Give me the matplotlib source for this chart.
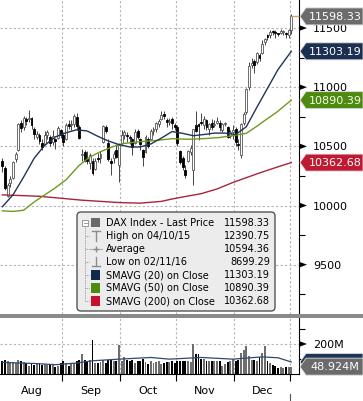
import matplotlib
matplotlib.use('Agg')
import matplotlib.pyplot as plt
from matplotlib.patches import Polygon, FancyBboxPatch, Rectangle
from matplotlib.ticker import MultipleLocator, FixedLocator, NullFormatter
import matplotlib.transforms as mtrans

# ---------------- data ----------------
dates = ['08/01', '08/02', '08/03', '08/04', '08/05', '08/08', '08/09', '08/10', '08/11', '08/12',
         '08/15', '08/16', '08/17', '08/18', '08/19', '08/22', '08/23', '08/24', '08/25', '08/26',
         '08/29', '08/30', '08/31', '09/01', '09/02', '09/05', '09/06', '09/07', '09/08', '09/09',
         '09/12', '09/13', '09/14', '09/15', '09/16', '09/19', '09/20', '09/21', '09/22', '09/23',
         '09/26', '09/27', '09/28', '09/29', '09/30', '10/03', '10/04', '10/05', '10/06', '10/07',
         '10/10', '10/11', '10/12', '10/13', '10/14', '10/17', '10/18', '10/19', '10/20', '10/21',
         '10/24', '10/25', '10/26', '10/27', '10/28', '10/31', '11/01', '11/02', '11/03', '11/04',
         '11/07', '11/08', '11/09', '11/10', '11/11', '11/14', '11/15', '11/16', '11/17', '11/18',
         '11/21', '11/22', '11/23', '11/24', '11/25', '11/28', '11/29', '11/30', '12/01', '12/02',
         '12/05', '12/06', '12/07', '12/08', '12/09', '12/12', '12/13', '12/14', '12/15', '12/16',
         '12/19', '12/20', '12/21', '12/22', '12/23', '12/27', '12/28', '12/29', '12/30', '01/02']

opens = [10380, 10320, 10080, 10190, 10230, 10390, 10470, 10700, 10660, 10730,
         10730, 10740, 10650, 10580, 10600, 10530, 10520, 10600, 10580, 10540,
         10560, 10570, 10640, 10600, 10560, 10690, 10680, 10690, 10750, 10660,
         10430, 10450, 10390, 10360, 10380, 10310, 10400, 10400, 10540, 10660,
         10530, 10380, 10400, 10470, 10340, 10530, 10600, 10600, 10580, 10560,
         10530, 10630, 10560, 10470, 10450, 10560, 10560, 10630, 10650, 10690,
         10730, 10770, 10720, 10710, 10730, 10680, 10660, 10460, 10400, 10300,
         10380, 10450, 10300, 10680, 10690, 10700, 10680, 10720, 10650, 10700,
         10680, 10700, 10700, 10640, 10690, 10660, 10590, 10620, 10650, 10520,
         10430, 10700, 10790, 11000, 11190, 11220, 11210, 11270, 11290, 11380,
         11440, 11440, 11470, 11470, 11455, 11460, 11470, 11460, 11440, 11480]
highs = [10400, 10330, 10190, 10250, 10380, 10450, 10700, 10720, 10760, 10750,
         10810, 10750, 10660, 10630, 10610, 10560, 10630, 10640, 10600, 10640,
         10570, 10670, 10650, 10620, 10700, 10720, 10720, 10770, 10780, 10680,
         10480, 10470, 10460, 10440, 10400, 10400, 10440, 10460, 10680, 10680,
         10560, 10400, 10460, 10520, 10530, 10640, 10640, 10620, 10600, 10570,
         10650, 10650, 10570, 10480, 10600, 10580, 10650, 10660, 10710, 10730,
         10800, 10800, 10740, 10740, 10750, 10700, 10680, 10470, 10420, 10340,
         10470, 10510, 10650, 10800, 10700, 10780, 10760, 10730, 10700, 10730,
         10720, 10750, 10720, 10700, 10710, 10670, 10640, 10680, 10660, 10560,
         10700, 10790, 10990, 11210, 11250, 11240, 11300, 11290, 11400, 11420,
         11450, 11480, 11480, 11480, 11460, 11490, 11480, 11470, 11490, 11620]
lows = [10280, 10130, 10070, 10160, 10220, 10370, 10460, 10620, 10640, 10680,
        10710, 10650, 10560, 10560, 10520, 10470, 10510, 10560, 10500, 10510,
        10480, 10560, 10570, 10500, 10550, 10650, 10640, 10660, 10640, 10560,
        10380, 10370, 10350, 10310, 10260, 10300, 10370, 10360, 10530, 10610,
        10380, 10260, 10360, 10400, 10200, 10520, 10560, 10540, 10520, 10430,
        10520, 10560, 10470, 10330, 10440, 10490, 10550, 10600, 10620, 10660,
        10720, 10730, 10660, 10680, 10650, 10640, 10500, 10350, 10300, 10230,
        10370, 10430, 10175, 10620, 10550, 10680, 10650, 10640, 10600, 10640,
        10660, 10690, 10630, 10620, 10670, 10570, 10570, 10560, 10500, 10470,
        10400, 10680, 10770, 10980, 11160, 11120, 11200, 11220, 11280, 11360,
        11400, 11420, 11440, 11420, 11430, 11450, 11440, 11420, 11420, 11450]
closes = [10331, 10144, 10170, 10228, 10367, 10432, 10693, 10651, 10743, 10713,
          10739, 10677, 10603, 10603, 10544, 10494, 10593, 10623, 10530, 10588,
          10544, 10658, 10593, 10534, 10684, 10672, 10687, 10753, 10675, 10573,
          10432, 10387, 10378, 10431, 10276, 10374, 10394, 10437, 10674, 10627,
          10394, 10361, 10438, 10406, 10511, 10600, 10619, 10586, 10569, 10491,
          10624, 10577, 10523, 10414, 10580, 10504, 10632, 10646, 10701, 10711,
          10761, 10757, 10710, 10717, 10696, 10665, 10526, 10371, 10326, 10259,
          10457, 10482, 10646, 10630, 10668, 10694, 10735, 10664, 10685, 10665,
          10685, 10714, 10662, 10689, 10699, 10583, 10620, 10640, 10534, 10513,
          10685, 10775, 10987, 11179, 11204, 11190, 11285, 11245, 11366, 11404,
          11427, 11465, 11469, 11456, 11450, 11472, 11475, 11451, 11481, 11598.33]
volumes = [85, 95, 85, 80, 80, 75, 95, 85, 80, 70,
           55, 65, 60, 65, 70, 60, 65, 60, 65, 60,
           45, 55, 75, 85, 75, 50, 65, 70, 85, 90,
           130, 90, 85, 95, 225, 70, 75, 80, 95, 70,
           90, 95, 85, 85, 195, 85, 110, 95, 85, 95,
           70, 85, 85, 100, 80, 65, 85, 75, 80, 85,
           65, 75, 80, 80, 85, 70, 88, 88, 88, 88,
           84, 77, 198, 136, 132, 99, 99, 88, 88, 88,
           84, 84, 88, 56, 66, 77, 84, 99, 88, 92,
           143, 158, 187, 120, 92, 92, 88, 110, 143, 187,
           88, 70, 62, 56, 41, 45, 41, 45, 45, 48.924]

sma20_idx = [0, 4, 8, 12, 16, 20, 24, 28, 32, 36, 40, 44, 48, 52, 56, 60, 64, 68, 72,
             76, 80, 84, 88, 92, 96, 100, 104, 109]
sma20_val = [9990, 10090, 10240, 10400, 10510, 10580, 10615, 10640, 10630, 10585, 10545,
             10515, 10495, 10495, 10520, 10570, 10625, 10610, 10590, 10600, 10612, 10612,
             10600, 10665, 10830, 10990, 11150, 11303.19]
sma50_idx = [0, 4, 8, 12, 16, 20, 24, 29, 33, 37, 42, 46, 52, 58, 64, 70, 76, 82, 88,
             92, 96, 100, 103, 106, 109]
sma50_val = [9955, 9950, 9960, 10030, 10090, 10150, 10217, 10340, 10410, 10455, 10500,
             10525, 10540, 10550, 10565, 10560, 10565, 10575, 10595, 10610, 10670, 10735,
             10780, 10835, 10890.39]
sma200_idx = [0, 14, 30, 44, 52, 60, 64, 70, 75, 81, 87, 92, 97, 103, 109]
sma200_val = [10090, 10078, 10045, 10025, 10020, 10035, 10055, 10080, 10100, 10140, 10195,
              10235, 10275, 10320, 10362.68]
volma_idx = [0, 12, 20, 28, 34, 44, 56, 63, 75, 87, 98, 104, 109]
volma_val = [77, 70, 62, 73, 88, 99, 110, 99, 110, 99, 114, 108, 80]

month_labels = ['Aug', 'Sep', 'Oct', 'Nov', 'Dec']
month_start = [0, 23, 45, 66, 88, 109]

legend_names = ['DAX Index - Last Price', 'High on 04/10/15', 'Average', 'Low on 02/11/16',
                'SMAVG (20) on Close', 'SMAVG (50) on Close', 'SMAVG (200) on Close']
legend_values = ['11598.33', '12390.75', '10594.36', '8699.29', '11303.19', '10890.39', '10362.68']

# ---------------- figure ----------------
W, H = 363, 401
fig = plt.figure(figsize=(W / 100, H / 100), dpi=100)
fig.patch.set_facecolor('white')
plt.rcParams['font.family'] = ['DejaVu Sans']


def fx(px):
    return px / W


def fy(py):
    return 1 - py / H


ax = fig.add_axes([0, fy(314), fx(299), 314 / H])
axv = fig.add_axes([0, fy(374), fx(299), (374 - 318) / H])

n = len(closes)
idx = list(range(n))
xmin, xmax = -0.9, 111.9
GRID = '#b4b4b4'
NAVY = '#1f3558'
GREEN = '#6e9a22'
RED = '#a8243c'

bounds = [s - 0.5 for s in month_start[1:]]
centers = [(month_start[k] - 0.5 + month_start[k + 1] - 0.5) / 2 for k in range(len(month_labels))]

# ---- price panel ----
ax.set_xlim(xmin, xmax)
ax.set_ylim(9083, 11737)
for b in bounds:
    ax.axvline(b, color=GRID, lw=0.8, dashes=(2, 2), zorder=0)
for v in [9500, 10000, 10500, 11000, 11500]:
    ax.axhline(v, color=GRID, lw=0.8, dashes=(2, 2), zorder=0)

for i in idx:
    o, h, l, c = opens[i], highs[i], lows[i], closes[i]
    up = c >= o
    ax.vlines(i, l, h, color='#444444', lw=0.7, zorder=2)
    lo, hi = min(o, c), max(o, c)
    if hi - lo < 8:
        hi = lo + 8
    ax.bar(i, hi - lo, bottom=lo, width=0.72,
           color='white' if up else 'black',
           edgecolor='#555555' if up else 'black', linewidth=0.6, zorder=3)

ax.plot(sma200_idx, sma200_val, color=RED, lw=1.0, zorder=4)
ax.plot(sma50_idx, sma50_val, color=GREEN, lw=1.0, zorder=4)
ax.plot(sma20_idx, sma20_val, color=NAVY, lw=1.0, zorder=4)
ax.hlines(closes[-1], n - 1.3, xmax, color='#d9a066', lw=1.0, zorder=5)

ax.yaxis.tick_right()
ax.yaxis.set_major_locator(FixedLocator([9500, 10000, 10500, 11000, 11500]))
ax.yaxis.set_minor_locator(MultipleLocator(250))
ax.tick_params(axis='y', which='major', length=0, pad=10, labelsize=8)
ax.tick_params(axis='y', which='minor', length=4, width=0.8, direction='out')
ax.set_xticks([])
for s in ['top', 'left', 'bottom']:
    ax.spines[s].set_visible(False)
ax.spines['right'].set_color('black')

# ---- volume panel ----
axv.set_xlim(xmin, xmax)
axv.set_ylim(0, 373)
for b in bounds:
    axv.axvline(b, color=GRID, lw=0.8, dashes=(2, 2), zorder=0)
axv.axhline(200, color=GRID, lw=0.8, dashes=(2, 2), zorder=0)
vcols = ['#6e6e6e' if closes[i] >= opens[i] else 'black' for i in idx]
axv.bar(idx, volumes, width=0.72, color=vcols, linewidth=0, zorder=2)
axv.plot(volma_idx, volma_val, color='#2d4a6e', lw=0.9, zorder=3)
axv.yaxis.tick_right()
axv.yaxis.set_major_locator(FixedLocator([200]))
axv.yaxis.set_major_formatter(lambda v, p: '%dM' % v)
axv.yaxis.set_minor_locator(FixedLocator([100, 300]))
axv.tick_params(axis='y', which='major', length=0, pad=10, labelsize=8)
axv.tick_params(axis='y', which='minor', length=4, width=0.8, direction='out')
axv.xaxis.set_major_locator(FixedLocator(bounds))
axv.xaxis.set_major_formatter(NullFormatter())
axv.xaxis.set_minor_locator(FixedLocator(centers))
axv.xaxis.set_minor_formatter(lambda v, p: month_labels[centers.index(v)] if v in centers else '')
axv.tick_params(axis='x', which='major', length=5, width=0.8, direction='out')
axv.tick_params(axis='x', which='minor', length=0, pad=9, labelsize=8)
for s in ['top', 'left']:
    axv.spines[s].set_visible(False)

# ---------------- overlay (pixel coordinates) ----------------
ov = fig.add_axes([0, 0, 1, 1], zorder=10)
ov.set_xlim(0, W)
ov.set_ylim(0, H)
ov.axis('off')
ov.patch.set_visible(False)

ov.add_patch(Rectangle((0, H - 318), W, 4, color='#8a8a8a', lw=0))


def disp_y(axis, v):
    return axis.transData.transform((0, v))[1]


# tick arrows
for a, vals in [(ax, [9500, 10000, 10500, 11000, 11500]), (axv, [200])]:
    for v in vals:
        yy = disp_y(a, v)
        ov.add_patch(Polygon([(300, yy - 2.6), (307, yy), (300, yy + 2.6)], closed=True,
                             color='black', lw=0))

# year tick
xj = ax.transData.transform((bounds[-1], 0))[0]
ov.plot([xj, xj], [0, 7], color='#555555', lw=0.8)


def tag(yc, text, face, tcolor='white', h=17):
    pts = [(300, yc), (306, yc - h / 2), (W, yc - h / 2), (W, yc + h / 2), (306, yc + h / 2)]
    ov.add_patch(Polygon(pts, closed=True, facecolor=face, edgecolor='#dddddd', lw=0.6))
    ov.text(335, yc - 0.5, text, color=tcolor, fontsize=8, ha='center', va='center')


tag(disp_y(axv, volma_val[-1]), '', NAVY)
tag(disp_y(axv, volumes[-1]), '%.3fM' % volumes[-1], '#6b6b6b')
tag(disp_y(ax, sma200_val[-1]), '%.2f' % sma200_val[-1], '#c01a32')
tag(disp_y(ax, sma50_val[-1]), '%.2f' % sma50_val[-1], '#4f8a10', '#f2ffe6')
tag(disp_y(ax, sma20_val[-1]), '%.2f' % sma20_val[-1], '#1b3050')
tag(disp_y(ax, closes[-1]), '%.2f' % closes[-1], '#6b6b6b')

# ---- legend box ----
ov.add_patch(FancyBboxPatch((77, H - 311), 198, 99, boxstyle='round,pad=0,rounding_size=4',
                            facecolor='#ececec', edgecolor='#555555', lw=1.0))
rows = [223, 236, 249, 262, 275, 288, 301]
LG = '#8c8c8c'
# tree
ov.add_patch(Rectangle((82, H - 226), 6, 6, facecolor='white', edgecolor=LG, lw=0.6))
ov.plot([83.5, 86.5], [H - 223, H - 223], color=LG, lw=0.6)
ov.plot([85, 85], [H - 226, H - rows[-1]], color=LG, lw=0.6, dashes=(1, 1))
for r in rows[1:]:
    ov.plot([85, 90], [H - r, H - r], color=LG, lw=0.6, dashes=(1, 1))
# icons
ov.add_patch(Rectangle((91, H - 227), 9, 9, facecolor='#6a6a6a', lw=0))
ov.plot([92, 100], [H - 231, H - 231], color=LG, lw=1.0)
ov.plot([96, 96], [H - 231, H - 241], color=LG, lw=1.0)
ov.plot([90, 102], [H - 249, H - 249], color='#b0b0b0', lw=0.8)
ov.plot([96], [H - 249], marker='+', color=LG, ms=4, mew=1.0)
ov.plot([96, 96], [H - 257, H - 266], color=LG, lw=1.0)
ov.plot([92, 100], [H - 266, H - 266], color=LG, lw=1.0)
for r, c in zip(rows[4:], ['#13294b', '#4b8b12', '#c8102e']):
    ov.add_patch(Rectangle((91, H - r - 5), 9, 10, facecolor=c, lw=0))
for r, name, val in zip(rows, legend_names, legend_values):
    ov.text(106, H - r, name, fontsize=7, color='black', ha='left', va='center')
    ov.text(270, H - r, val, fontsize=7, color='black', ha='right', va='center')

fig.savefig('out.png', dpi=100)
